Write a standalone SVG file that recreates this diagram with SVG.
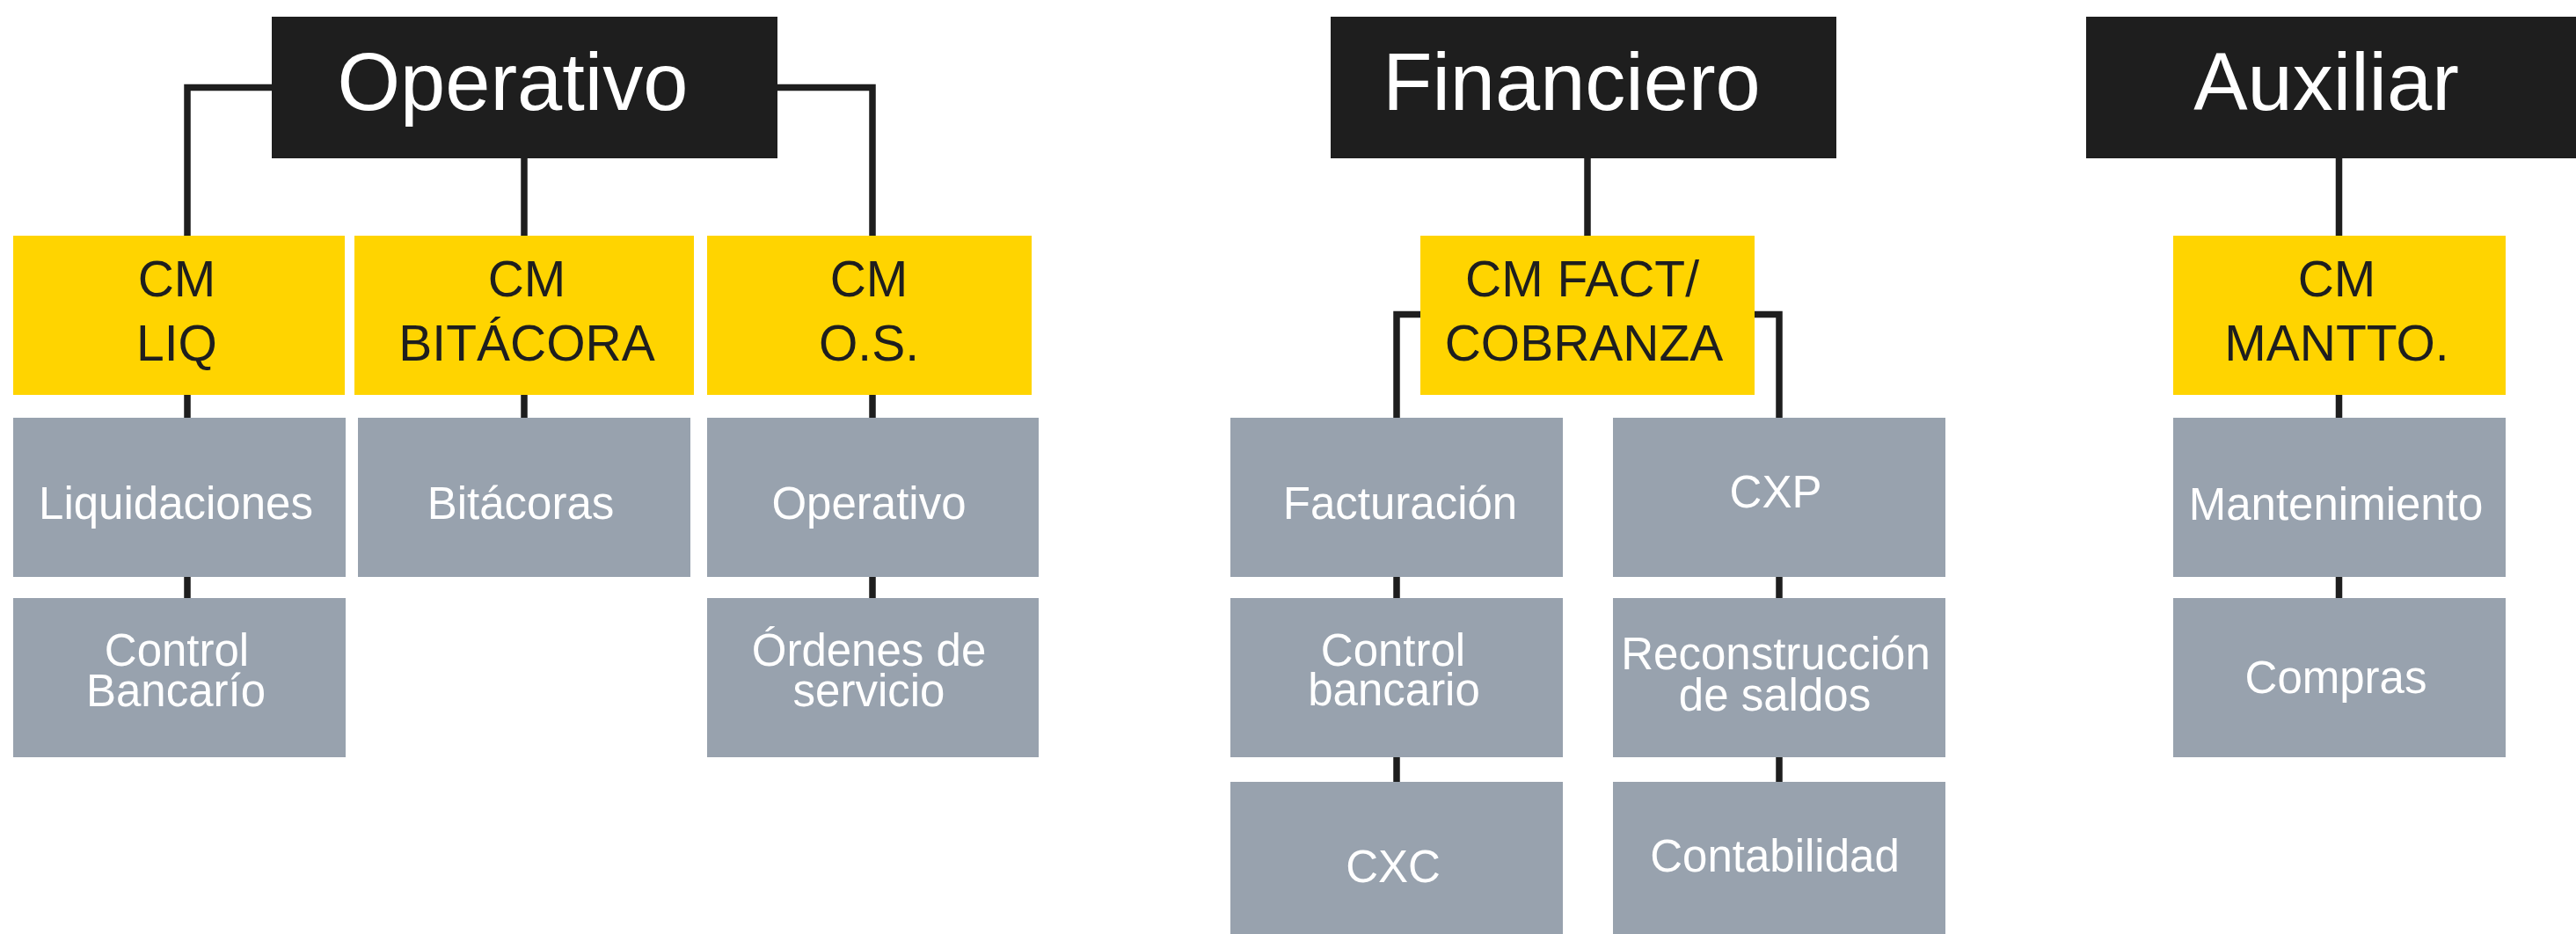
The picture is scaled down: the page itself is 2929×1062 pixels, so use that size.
<svg xmlns="http://www.w3.org/2000/svg" width="2929" height="1062" viewBox="0 0 2929 1062">
<style>
.hdr{fill:#1e1e1e}
.cm{fill:#ffd400}
.leaf{fill:#98a2ae}
text{font-family:"Liberation Sans",Arial,Helvetica,sans-serif;text-anchor:middle}
.th{font-size:92px;fill:#ffffff}
.tc{font-size:57px;fill:#1e1e1e}
.tl{font-size:51px;fill:#ffffff}
.conn{fill:none;stroke:#1e1e1e;stroke-width:7.5;stroke-linejoin:miter;stroke-linecap:butt}
</style>
<rect width="2929" height="1062" fill="#ffffff"/>
<g id="connectors">
<path class="conn" d="M309 99.5H213V268"/>
<path class="conn" d="M884 99.5H992V268"/>
<path class="conn" d="M596 180V268"/>
<path class="conn" d="M213 449V475M596 449V475M992 449V475"/>
<path class="conn" d="M213 656V680M992 656V680"/>
<path class="conn" d="M1805 180V268"/>
<path class="conn" d="M1615 357.5H1588V475"/>
<path class="conn" d="M1995 357.5H2023V475"/>
<path class="conn" d="M1588 656V680M2023 656V680M1588 861V889M2023 861V889"/>
<path class="conn" d="M2659.5 180V268M2659.5 449V475M2659.5 656V680"/>
</g>
<g id="n-operativo"><rect class="hdr" x="309" y="19" width="575" height="161"/><text class="th" x="583" y="125">Operativo</text></g>
<g id="n-financiero"><rect class="hdr" x="1513" y="19" width="575" height="161"/><text class="th" x="1787" y="125">Financiero</text></g>
<g id="n-auxiliar"><rect class="hdr" x="2372" y="19" width="557" height="161"/><text class="th" x="2645" y="125">Auxiliar</text></g>

<g id="n-cm-liq"><rect class="cm" x="15" y="268" width="377" height="181"/><text class="tc" x="201" y="337">CM</text><text class="tc" x="201" y="410">LIQ</text></g>
<g id="n-cm-bitacora"><rect class="cm" x="403" y="268" width="386" height="181"/><text class="tc" x="599" y="337">CM</text><text class="tc" x="599" y="410">BITÁCORA</text></g>
<g id="n-cm-os"><rect class="cm" x="804" y="268" width="369" height="181"/><text class="tc" x="988" y="337">CM</text><text class="tc" x="988" y="410">O.S.</text></g>
<g id="n-cm-fact"><rect class="cm" x="1615" y="268" width="380" height="181"/><text class="tc" x="1799" y="337">CM FACT/</text><text class="tc" x="1801" y="410">COBRANZA</text></g>
<g id="n-cm-mantto"><rect class="cm" x="2471" y="268" width="378" height="181"/><text class="tc" x="2657" y="337">CM</text><text class="tc" x="2657" y="410">MANTTO.</text></g>

<g id="n-liquidaciones"><rect class="leaf" x="15" y="475" width="378" height="181"/><text class="tl" x="200" y="590">Liquidaciones</text></g>
<g id="n-control-bancario-1"><rect class="leaf" x="15" y="680" width="378" height="181"/><text class="tl" x="201" y="757">Control</text><text class="tl" x="200" y="803">Bancarío</text></g>
<g id="n-bitacoras"><rect class="leaf" x="407" y="475" width="378" height="181"/><text class="tl" x="592" y="590">Bitácoras</text></g>
<g id="n-operativo-leaf"><rect class="leaf" x="804" y="475" width="377" height="181"/><text class="tl" x="988" y="590">Operativo</text></g>
<g id="n-ordenes"><rect class="leaf" x="804" y="680" width="377" height="181"/><text class="tl" x="988" y="757">Órdenes de</text><text class="tl" x="988" y="803">servicio</text></g>

<g id="n-facturacion"><rect class="leaf" x="1399" y="475" width="378" height="181"/><text class="tl" x="1592" y="590">Facturación</text></g>
<g id="n-control-bancario-2"><rect class="leaf" x="1399" y="680" width="378" height="181"/><text class="tl" x="1584" y="757">Control</text><text class="tl" x="1585" y="802">bancario</text></g>
<g id="n-cxc"><rect class="leaf" x="1399" y="889" width="378" height="181"/><text class="tl" x="1584" y="1003">CXC</text></g>
<g id="n-cxp"><rect class="leaf" x="1834" y="475" width="378" height="181"/><text class="tl" x="2019" y="577">CXP</text></g>
<g id="n-reconstruccion"><rect class="leaf" x="1834" y="680" width="378" height="181"/><text class="tl" x="2019" y="761">Reconstrucción</text><text class="tl" x="2018" y="808">de saldos</text></g>
<g id="n-contabilidad"><rect class="leaf" x="1834" y="889" width="378" height="181"/><text class="tl" x="2018" y="991">Contabilidad</text></g>

<g id="n-mantenimiento"><rect class="leaf" x="2471" y="475" width="378" height="181"/><text class="tl" x="2656" y="591">Mantenimiento</text></g>
<g id="n-compras"><rect class="leaf" x="2471" y="680" width="378" height="181"/><text class="tl" x="2656" y="788">Compras</text></g>
</svg>
